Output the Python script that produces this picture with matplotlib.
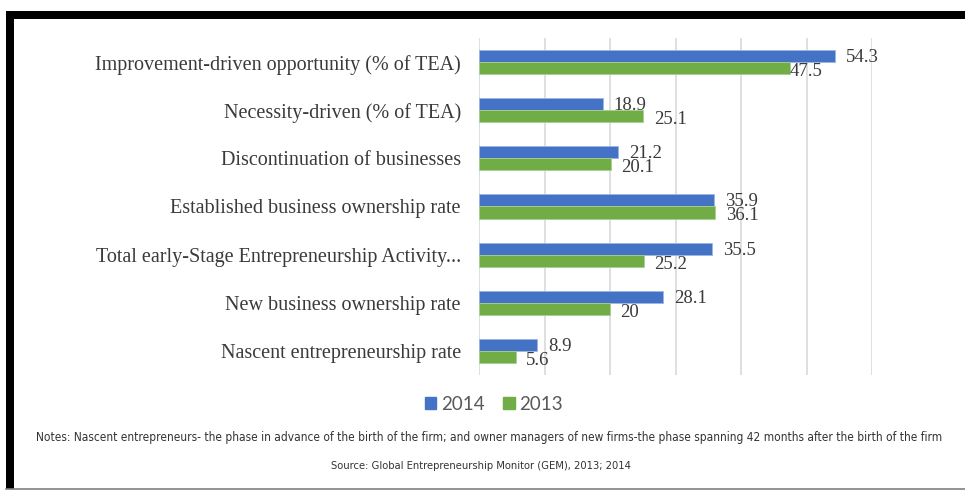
import matplotlib
matplotlib.use("Agg")
import matplotlib.pyplot as plt
from matplotlib.patches import Rectangle, Patch
from matplotlib.lines import Line2D
import numpy as np

categories = [
    "Nascent entrepreneurship rate",
    "New business ownership rate",
    "Total early-Stage Entrepreneurship Activity...",
    "Established business ownership rate",
    "Discontinuation of businesses",
    "Necessity-driven (% of TEA)",
    "Improvement-driven opportunity (% of TEA)",
]
values_2014 = [8.9, 28.1, 35.5, 35.9, 21.2, 18.9, 54.3]
values_2013 = [5.6, 20.0, 25.2, 36.1, 20.1, 25.1, 47.5]
labels_2014 = ["8.9", "28.1", "35.5", "35.9", "21.2", "18.9", "54.3"]
labels_2013 = ["5.6", "20", "25.2", "36.1", "20.1", "25.1", "47.5"]
xticks = [0, 10, 20, 30, 40, 50, 60]

notes = ("Notes: Nascent entrepreneurs- the phase in advance of the birth of the firm; and owner managers "
         "of new firms-the phase spanning 42 months after the birth of the firm")
source = "Source: Global Entrepreneurship Monitor (GEM), 2013; 2014"

BLUE = "#4472C4"
GREEN = "#70AD47"
TXT = "#404040"

W, H = 965, 490
fig = plt.figure(figsize=(W / 100, H / 100), dpi=100)
fig.patch.set_facecolor("white")

ax = fig.add_axes([479 / W, 1 - 375 / H, (872 - 479) / W, (375 - 38) / H])
y = np.arange(len(categories))
bh = 0.25
ax.barh(y + bh / 2, values_2014, height=bh, color=BLUE, edgecolor="#9DB5E3", linewidth=0.6, zorder=3)
ax.barh(y - bh / 2, values_2013, height=bh, color=GREEN, edgecolor="#A9CF8F", linewidth=0.6, zorder=3)

ax.set_xlim(0, 60)
ax.set_ylim(-0.5, len(categories) - 0.5)
ax.set_xticks(xticks)
ax.set_xticklabels([])
ax.tick_params(axis="both", length=0)
ax.grid(axis="x", color="#D9D9D9", linewidth=1.2, zorder=0)
for s in ax.spines.values():
    s.set_visible(False)
ax.set_yticks(y)
ax.set_yticklabels(categories, family="Liberation Serif", fontsize=14.5, color="#3a3a3a")
ax.tick_params(axis="y", pad=13)

lbl_font = dict(family="Liberation Serif", fontsize=13.5, color="#3a3a3a", va="center", ha="left")
green_offsets = {6: 0}
for i in range(len(categories)):
    ax.annotate(labels_2014[i], (values_2014[i], y[i] + bh / 2), xytext=(8, -1),
                textcoords="offset points", **lbl_font)
    ax.annotate(labels_2013[i], (values_2013[i], y[i] - bh / 2), xytext=(green_offsets.get(i, 7.5), -2.5),
                textcoords="offset points", **lbl_font)

handles = [Patch(facecolor=BLUE, edgecolor=BLUE), Patch(facecolor=GREEN, edgecolor=GREEN)]
fig.legend(handles, ["2014", "2013"], loc="center", bbox_to_anchor=(494 / W, 1 - 404 / H), ncol=2,
           frameon=False, handlelength=0.6, handleheight=0.6, handletextpad=0.25, columnspacing=1.0,
           prop=dict(family="Lato", size=13.5), labelcolor="#595959")

t1 = fig.text(489.5 / W, 1 - 437 / H, notes, ha="center", va="center",
              family="DejaVu Sans", fontstretch="condensed", fontsize=9, color="#333333")
t2 = fig.text(480.5 / W, 1 - 466 / H, source, ha="center", va="center",
              family="DejaVu Sans", fontstretch="condensed", fontsize=9, color="#333333")
renderer = fig.canvas.get_renderer()
for t, target in ((t1, 905), (t2, 301)):
    w = t.get_window_extent(renderer).width
    t.set_fontsize(9 * target / w)

# Frame
fig.patches.append(Rectangle((6 / W, 1 - 19 / H), 1 - 6 / W, 8 / H, transform=fig.transFigure,
                             facecolor="black", edgecolor="none"))
fig.patches.append(Rectangle((6 / W, 1 - 489 / H), 8 / W, (489 - 11) / H, transform=fig.transFigure,
                             facecolor="black", edgecolor="none"))
fig.add_artist(Line2D([6 / W, 1], [1 - 488.5 / H, 1 - 488.5 / H], transform=fig.transFigure,
                      color="#808080", linewidth=1.2))

fig.savefig("out.png", dpi=100)
